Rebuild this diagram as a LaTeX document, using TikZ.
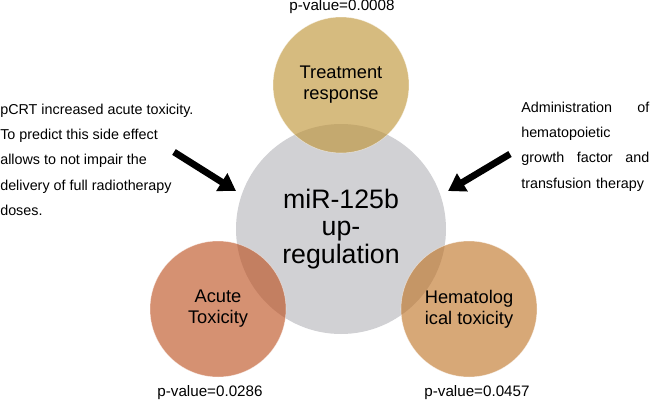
\documentclass[tikz,border=0pt]{standalone}
\usepackage{fontspec}
\setmainfont{Liberation Sans}
\usetikzlibrary{arrows.meta}
\definecolor{treatcol}{RGB}{189,145,49}
\definecolor{acutecol}{RGB}{188,77,28}
\definecolor{hemacol}{RGB}{190,114,36}
\definecolor{mircol}{RGB}{209,209,212}
\newcommand{\pvaluelabel}[1]{p-value=#1}

\begin{document}
\begin{tikzpicture}[venn/.style = {circle, minimum size = 3.4cm, inner sep = 0, align = center, fill opacity = 0.62, text opacity = 1, draw = white, draw opacity = 0.5, font = \fontsize{13}{15}\selectfont}, pval/.style = {inner sep = 0, font = \fontsize{10.8}{13}\selectfont}, note/.style = {inner sep = 0, align = left, anchor = north west, font = \fontsize{10.2}{18.1}\selectfont}]

	\useasboundingbox (0, 0) rectangle (16.25, 10.175);

	\node (miR) at ( 8.525, 4.45) [circle, minimum size = 5.25cm, inner sep = 0, fill = mircol, align = center, font = \fontsize{19}{19.4}\selectfont] {miR-125b \\ up- \\ regulation};
	\node (TR)  at ( 8.525, 8.05) [venn, fill = treatcol] {Treatment \\ response};
	\node (AT)  at ( 5.45,  2.45) [venn, fill = acutecol] {Acute \\ Toxicity};
	\node (HT)  at (11.725, 2.45) [venn, fill = hemacol]  {Hematolog \\ ical toxicity};

	\node (pTR) at ( 8.55,  10.0) [pval] {\pvaluelabel{0.0008}};
	\node (pAT) at ( 5.25,  0.35) [pval] {\pvaluelabel{0.0286}};
	\node (pHT) at (11.925, 0.35) [pval] {\pvaluelabel{0.0457}};

	\node (pcrt) at ( 0.0,  7.59) [note] {pCRT increased acute toxicity. \\ To predict this side effect \\ allows to not impair the \\ delivery of full radiotherapy \\ doses.};
	\node (hgf)  at (13.025, 7.64) [note, text width = 3.2cm] {Administration \hfill of \\ hematopoietic \\ growth \hfill factor \hfill and \\ transfusion therapy};

	\coordinate (pcrtTail) at ( 4.35, 6.375);
	\coordinate (pcrtTip)  at ( 5.9,  5.4);
	\coordinate (hgfTail)  at (12.75, 6.325);
	\coordinate (hgfTip)   at (11.2,  5.4);

	\foreach \from/\to in {pcrtTail/pcrtTip, hgfTail/hgfTip}
		\draw [-{Triangle[length = 0.42cm, width = 0.5cm]}, line width = 4.8pt] (\from) -- (\to);
\end{tikzpicture}
\end{document}
